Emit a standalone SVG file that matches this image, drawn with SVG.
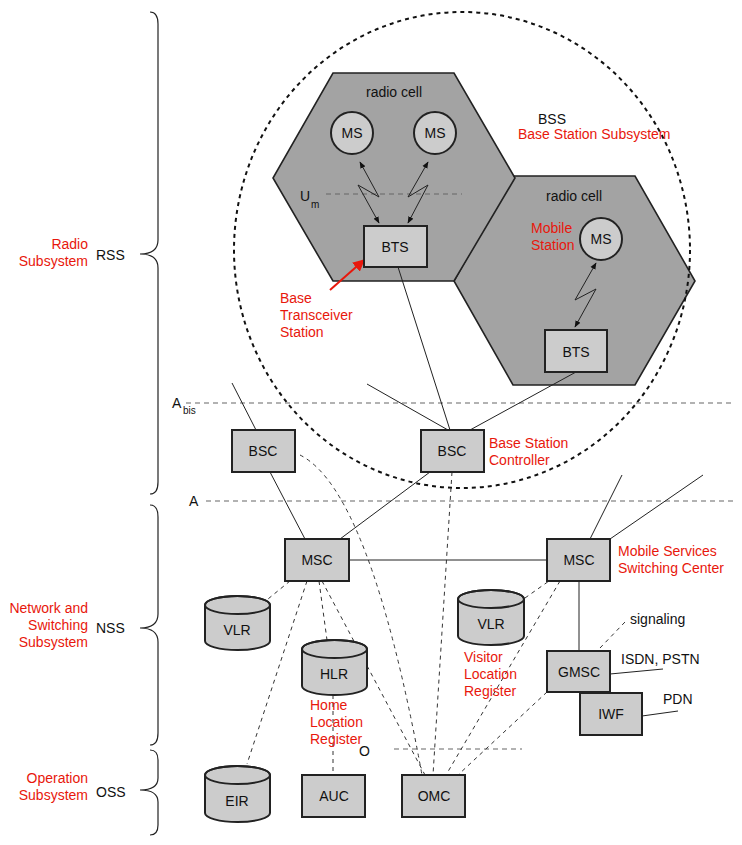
<svg xmlns="http://www.w3.org/2000/svg" width="742" height="845" viewBox="0 0 742 845">
<style>
text{font-family:"Liberation Sans",Arial,sans-serif;font-size:14px;fill:#111}
.r{fill:#e8170c}
.box{fill:#cccccc;stroke:#222;stroke-width:2}
.hex{fill:#a3a3a3;stroke:#222;stroke-width:1.6}
.ln{stroke:#222;stroke-width:1;fill:none}
.dl{stroke:#333;stroke-width:1;stroke-dasharray:4,4;fill:none}
.gl{stroke:#666;stroke-width:1.2;stroke-dasharray:5,4;fill:none}
.br{stroke:#222;stroke-width:1.2;fill:none}
.m{text-anchor:middle}
.e{text-anchor:end}
</style>
<defs>
<marker id="ah" viewBox="0 0 10 10" refX="9" refY="5" markerWidth="7" markerHeight="7" orient="auto-start-reverse"><path d="M0,1 L10,5 L0,9 z" fill="#111"/></marker>
<marker id="rh" viewBox="0 0 10 10" refX="9" refY="5" markerWidth="6" markerHeight="6" orient="auto"><path d="M0,0 L10,5 L0,10 z" fill="#e8170c"/></marker>
</defs>
<g id="braces">
<path class="br" d="M150,12 Q158,12 158,24 L158,240 Q158,254 140,254 Q158,254 158,268 L158,482 Q158,494 150,494"/>
<path class="br" d="M150,505 Q158,505 158,517 L158,614 Q158,628 140,628 Q158,628 158,642 L158,733 Q158,745 150,745"/>
<path class="br" d="M150,750 Q158,750 158,760 L158,778 Q158,790 140,790 Q158,790 158,802 L158,825 Q158,835 150,835"/>
<text class="r e" x="88" y="249">Radio</text><text class="r e" x="88" y="266">Subsystem</text><text x="96" y="260">RSS</text>
<text class="r e" x="88" y="613">Network and</text><text class="r e" x="88" y="630">Switching</text><text class="r e" x="88" y="647">Subsystem</text><text x="96" y="633">NSS</text>
<text class="r e" x="88" y="783">Operation</text><text class="r e" x="88" y="800">Subsystem</text><text x="96" y="797">OSS</text>
</g>
<g id="cells">
<polygon class="hex" points="513,176 635,176 695,281 635,385 513,385 454,281"/>
<polygon class="hex" points="333,73 454,73 515,178 454,281 333,281 273,178"/>
<text class="m" x="394" y="97">radio cell</text>
<text class="m" x="574" y="201">radio cell</text>
</g>
<ellipse id="bss" cx="462" cy="250" rx="228" ry="238" fill="none" stroke="#111" stroke-width="2" stroke-dasharray="4,4"/>
<text x="538" y="124">BSS</text>
<text class="r" x="518" y="139">Base Station Subsystem</text>
<g id="interfaces">
<line class="gl" x1="326" y1="194" x2="462" y2="194"/>
<text x="300" y="201">U</text><text x="311" y="208" style="font-size:10px">m</text>
<line class="gl" x1="186" y1="403" x2="735" y2="403"/>
<text x="172" y="408">A</text><text x="183" y="414" style="font-size:10px">bis</text>
<line class="gl" x1="206" y1="501" x2="735" y2="501"/>
<text x="189" y="506">A</text>
<line class="gl" x1="394" y1="749" x2="522" y2="749"/>
<text x="359" y="756">O</text>
</g>
<g id="connectors">
<polyline class="ln" points="360,162 379,197 358,185 379,223" marker-start="url(#ah)" marker-end="url(#ah)"/>
<polyline class="ln" points="428,162 408,197 428,185 408,223" marker-start="url(#ah)" marker-end="url(#ah)"/>
<polyline class="ln" points="596,263 575,300 596,289 575,327" marker-start="url(#ah)" marker-end="url(#ah)"/>
<line class="ln" x1="398" y1="267" x2="450" y2="430"/>
<line class="ln" x1="576" y1="372" x2="470" y2="430"/>
<line class="ln" x1="256" y1="430" x2="232" y2="383"/>
<line class="ln" x1="448" y1="430" x2="367" y2="384"/>
<line class="ln" x1="270" y1="472" x2="305" y2="539"/>
<line class="ln" x1="430" y1="472" x2="340" y2="539"/>
<line class="ln" x1="349" y1="560" x2="547" y2="560"/>
<line class="ln" x1="622" y1="475" x2="590" y2="539"/>
<line class="ln" x1="703" y1="475" x2="610" y2="539"/>
<line class="ln" x1="579" y1="581" x2="579" y2="651"/>
<line class="ln" x1="610" y1="674" x2="663" y2="669"/>
<line class="ln" x1="642" y1="716" x2="678" y2="711"/>
<line class="dl" x1="600" y1="648" x2="625" y2="622"/>
<line class="dl" x1="290" y1="581" x2="268" y2="599"/>
<line class="dl" x1="307" y1="581" x2="247" y2="764"/>
<line class="dl" x1="319" y1="581" x2="327" y2="640"/>
<line class="dl" x1="322" y1="581" x2="425" y2="775"/>
<path class="dl" d="M300,455 Q370,490 422,775"/>
<line class="dl" x1="452" y1="472" x2="433" y2="775"/>
<line class="dl" x1="525" y1="598" x2="549" y2="581"/>
<line class="dl" x1="560" y1="581" x2="446" y2="775"/>
<line class="dl" x1="547" y1="692" x2="458" y2="775"/>
<line class="dl" x1="333" y1="695" x2="333" y2="775"/>
<line x1="330" y1="290" x2="364" y2="260" stroke="#e8170c" stroke-width="2" marker-end="url(#rh)"/>
</g>
<g id="ms1"><circle class="box" cx="352" cy="133" r="21"/><text class="m" x="352" y="138">MS</text></g>
<g id="ms2"><circle class="box" cx="435" cy="133" r="21"/><text class="m" x="435" y="138">MS</text></g>
<g id="ms3"><circle class="box" cx="601" cy="239" r="21"/><text class="m" x="601" y="244">MS</text></g>
<text class="r" x="531" y="233">Mobile</text><text class="r" x="531" y="250">Station</text>
<g id="bts1"><rect class="box" x="364" y="226" width="63" height="41"/><text class="m" x="395" y="252">BTS</text></g>
<g id="bts2"><rect class="box" x="545" y="330" width="62" height="42"/><text class="m" x="576" y="357">BTS</text></g>
<text class="r" x="280" y="303">Base</text><text class="r" x="280" y="320">Transceiver</text><text class="r" x="280" y="337">Station</text>
<g id="bsc1"><rect class="box" x="232" y="430" width="63" height="42"/><text class="m" x="263" y="456">BSC</text></g>
<g id="bsc2"><rect class="box" x="421" y="430" width="63" height="42"/><text class="m" x="452" y="456">BSC</text></g>
<text class="r" x="489" y="448">Base Station</text><text class="r" x="489" y="465">Controller</text>
<g id="msc1"><rect class="box" x="285" y="539" width="64" height="42"/><text class="m" x="317" y="565">MSC</text></g>
<g id="msc2"><rect class="box" x="547" y="539" width="63" height="42"/><text class="m" x="579" y="565">MSC</text></g>
<text class="r" x="618" y="556">Mobile Services</text><text class="r" x="618" y="573">Switching Center</text>
<g id="gmsc"><rect class="box" x="547" y="651" width="63" height="41"/><text class="m" x="579" y="677">GMSC</text></g>
<g id="iwf"><rect class="box" x="580" y="693" width="62" height="42" stroke-width="2.5"/><text class="m" x="611" y="719">IWF</text></g>
<text x="630" y="624">signaling</text>
<text x="621" y="664">ISDN, PSTN</text>
<text x="663" y="704">PDN</text>
<g id="vlr1"><path class="box" d="M205,605 A32.5,9 0 0 1 270,605 L270,641 A32.5,9 0 0 1 205,641 Z"/><ellipse cx="237.5" cy="605" rx="32.5" ry="9" fill="none" stroke="#222" stroke-width="2"/><text class="m" x="237" y="635">VLR</text></g>
<g id="hlr"><path class="box" d="M302,649 A32.5,9 0 0 1 367,649 L367,686 A32.5,9 0 0 1 302,686 Z"/><ellipse cx="334.5" cy="649" rx="32.5" ry="9" fill="none" stroke="#222" stroke-width="2"/><text class="m" x="334" y="679">HLR</text></g>
<text class="r" x="310" y="710">Home</text><text class="r" x="310" y="727">Location</text><text class="r" x="310" y="744">Register</text>
<g id="vlr2"><path class="box" d="M458,599 A33,9 0 0 1 524,599 L524,636 A33,9 0 0 1 458,636 Z"/><ellipse cx="491" cy="599" rx="33" ry="9" fill="none" stroke="#222" stroke-width="2"/><text class="m" x="491" y="629">VLR</text></g>
<text class="r" x="464" y="662">Visitor</text><text class="r" x="464" y="679">Location</text><text class="r" x="464" y="696">Register</text>
<g id="eir"><path class="box" d="M205,775 A32.5,9 0 0 1 270,775 L270,813 A32.5,9 0 0 1 205,813 Z"/><ellipse cx="237.5" cy="775" rx="32.5" ry="9" fill="none" stroke="#222" stroke-width="2"/><text class="m" x="237" y="806">EIR</text></g>
<g id="auc"><rect class="box" x="302" y="775" width="63" height="42"/><text class="m" x="334" y="801">AUC</text></g>
<g id="omc"><rect class="box" x="402" y="775" width="63" height="42"/><text class="m" x="434" y="801">OMC</text></g>
</svg>
